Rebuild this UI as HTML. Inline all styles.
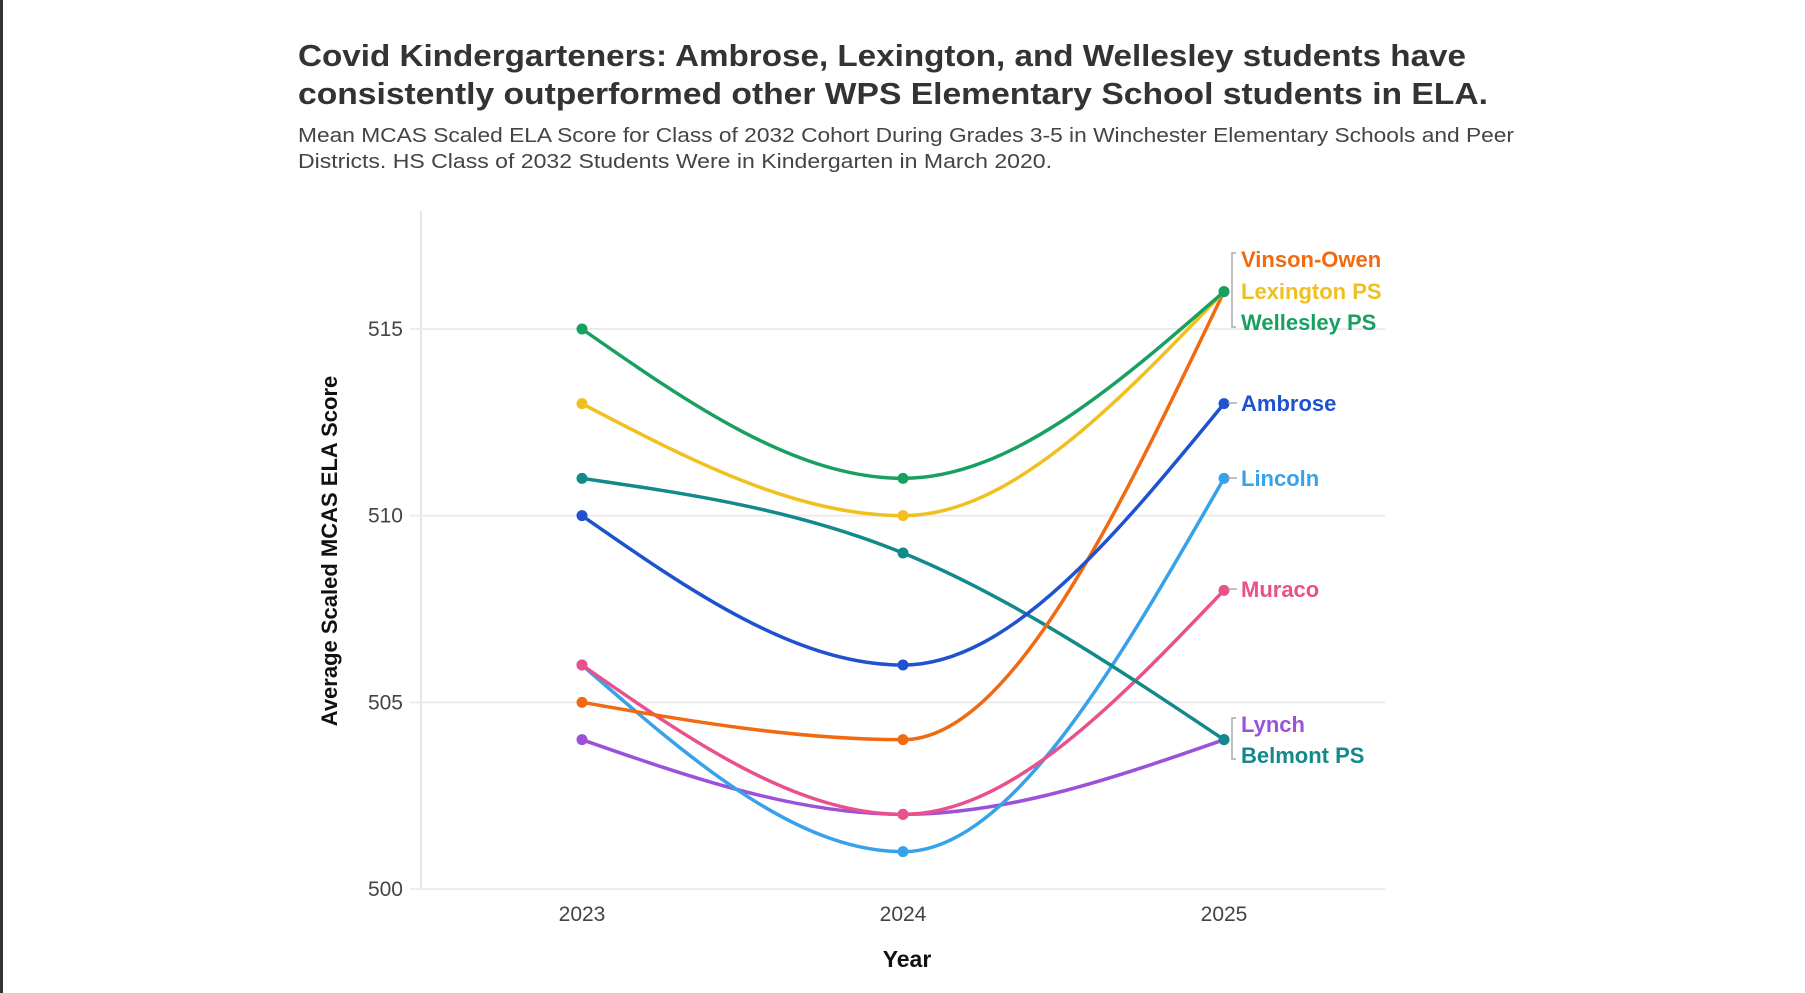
<!DOCTYPE html>
<html><head><meta charset="utf-8"><style>
html,body{margin:0;padding:0;background:#fff;}
svg{display:block;font-family:"Liberation Sans",sans-serif;}
</style></head><body>
<svg id="chart" width="1805" height="993" viewBox="0 0 1805 993">
<rect x="0" y="0" width="3" height="993" fill="#333"/>
<text x="298" y="66" font-size="31" font-weight="bold" fill="#333" textLength="1168" lengthAdjust="spacingAndGlyphs">Covid Kindergarteners: Ambrose, Lexington, and Wellesley students have</text>
<text x="298" y="104" font-size="31" font-weight="bold" fill="#333" textLength="1190" lengthAdjust="spacingAndGlyphs">consistently outperformed other WPS Elementary School students in ELA.</text>
<text x="298" y="142" font-size="20" fill="#444" textLength="1216" lengthAdjust="spacingAndGlyphs">Mean MCAS Scaled ELA Score for Class of 2032 Cohort During Grades 3-5 in Winchester Elementary Schools and Peer</text>
<text x="298" y="168" font-size="20" fill="#444" textLength="754" lengthAdjust="spacingAndGlyphs">Districts. HS Class of 2032 Students Were in Kindergarten in March 2020.</text>
<g id="grid"></g>
<g id="lines"></g>
<g id="labels"></g>
<text x="0" y="0" transform="translate(337,551) rotate(-90)" text-anchor="middle" font-size="22" font-weight="bold" fill="#111">Average Scaled MCAS ELA Score</text>
<text x="907" y="967" text-anchor="middle" font-size="23" font-weight="bold" fill="#111">Year</text>
</svg>
<script>
const years = [2023, 2024, 2025];
const yTicks = [500, 505, 510, 515];
const seriesNames = ["Vinson-Owen","Lexington PS","Wellesley PS","Ambrose","Lincoln","Muraco","Lynch","Belmont PS"];
const vinsonOwen = [505, 504, 516];
const lexington = [513, 510, 516];
const wellesley = [515, 511, 516];
const ambrose = [510, 506, 513];
const lincoln = [506, 501, 511];
const muraco = [506, 502, 508];
const lynch = [504, 502, 504];
const belmont = [511, 509, 504];
const seriesValues = [vinsonOwen, lexington, wellesley, ambrose, lincoln, muraco, lynch, belmont];
const seriesColors = ["#f06a12","#f0c020","#17a060","#1f52d0","#37a2ea","#e9508c","#9b52d8","#12898a"];
const labelY = [259, 291, 322, 403, 478, 589, 724, 755];

const NS = "http://www.w3.org/2000/svg";
const X0 = 582, X1 = 1224;
const xS = y => X0 + (y - years[0]) * (X1 - X0) / (years[years.length-1] - years[0]);
const yS = v => 889 - (v - 500) * (889 - 329) / 15;
function mk(tag, attrs, parent){const e=document.createElementNS(NS,tag);for(const k in attrs)e.setAttribute(k,attrs[k]);parent.appendChild(e);return e;}
const grid = document.getElementById('grid'), lines = document.getElementById('lines'), labels = document.getElementById('labels');

mk('line',{x1:421,y1:211,x2:421,y2:889,stroke:'#e6e6e6','stroke-width':2},grid);
yTicks.forEach(t=>{
  const l = mk('line',{x1:410,y1:yS(t),x2:1385,y2:yS(t),stroke:'#ececec','stroke-width':2},grid);
  
  
  const tx = mk('text',{x:403,y:yS(t)+7,'text-anchor':'end','font-size':21,fill:'#444'},grid);
  tx.textContent = t;
  
  
});
years.forEach(y=>{
  const tx = mk('text',{x:xS(y),y:921,'text-anchor':'middle','font-size':21,fill:'#444'},grid);
  tx.textContent = y;
  
  
});

function monotonePath(pts){
  const n=pts.length, s=[], t=new Array(n);
  for(let i=0;i<n-1;i++) s.push((pts[i+1][1]-pts[i][1])/(pts[i+1][0]-pts[i][0]));
  const sign=v=>v<0?-1:1;
  for(let i=1;i<n-1;i++){
    const h0=pts[i][0]-pts[i-1][0], h1=pts[i+1][0]-pts[i][0];
    const p=(s[i-1]*h1+s[i]*h0)/(h0+h1);
    t[i]=(sign(s[i-1])+sign(s[i]))*Math.min(Math.abs(s[i-1]),Math.abs(s[i]),0.5*Math.abs(p))||0;
  }
  t[0]=(3*s[0]-t[1])/2; t[n-1]=(3*s[n-2]-t[n-2])/2;
  let d='M'+pts[0][0]+','+pts[0][1];
  for(let i=0;i<n-1;i++){
    const dx=(pts[i+1][0]-pts[i][0])/3;
    d+=' C'+(pts[i][0]+dx)+','+(pts[i][1]+dx*t[i])+' '+(pts[i+1][0]-dx)+','+(pts[i+1][1]-dx*t[i+1])+' '+pts[i+1][0]+','+pts[i+1][1];
  }
  return d;
}
const drawOrder=[6,4,5,7,0,3,1,2];
drawOrder.forEach(k=>{
  const pts = seriesValues[k].map((v,i)=>[xS(years[i]),yS(v)]);
  const g = mk('g',{},lines);
  
  
  const p = mk('path',{d:monotonePath(pts),fill:'none',stroke:seriesColors[k],'stroke-width':3.5},g);
  
  
  pts.forEach((q,i)=>{
    const c = mk('circle',{cx:q[0],cy:q[1],r:5.5,fill:seriesColors[k]},g);
    
    
  });
});
seriesNames.forEach((nm,k)=>{
  const t = mk('text',{x:1241,y:labelY[k]+8,'font-size':22,'font-weight':'bold',fill:seriesColors[k]},labels);
  t.textContent = nm;
  
  
});
[[253,327],[718,759]].forEach((b,i)=>{
  const br = mk('path',{d:`M1236,${b[0]} H1232 V${b[1]} H1236`,fill:'none',stroke:'#aaa','stroke-width':1.5},labels);
  
  
});
[3,4,5].forEach(k=>{
  const c = mk('line',{x1:1228,y1:labelY[k],x2:1237,y2:labelY[k],stroke:'#aaa','stroke-width':1.5},labels);
  
  
});
</script>
</body></html>
